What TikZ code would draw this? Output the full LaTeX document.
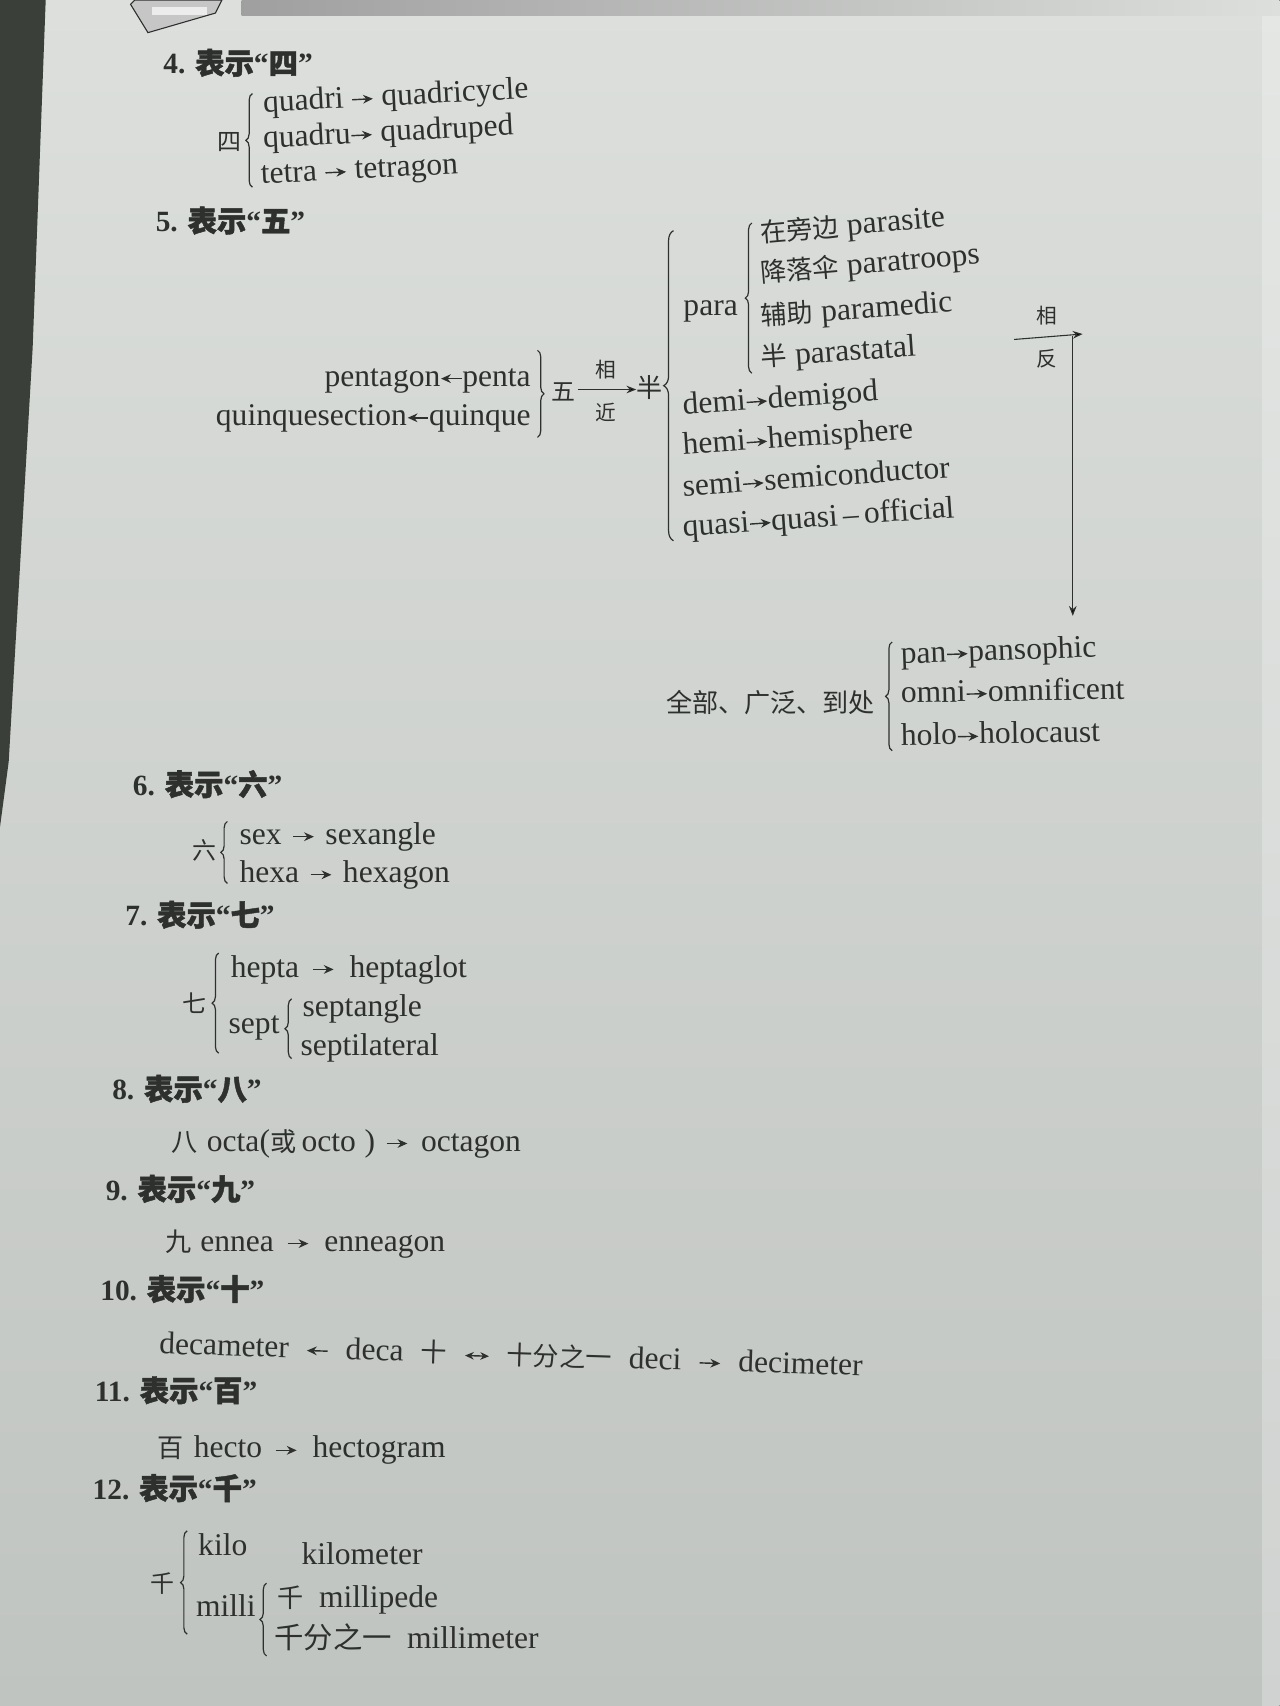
\documentclass[tikz,border=0pt]{standalone}
\usepackage{fontspec}
\setmainfont{Liberation Serif}
\newfontfamily\cjk{Noto Sans CJK SC}
\newfontfamily\cjkb{Noto Sans CJK SC}[FakeBold=1.5]
\usetikzlibrary{decorations.pathreplacing,arrows.meta}
\definecolor{ink}{HTML}{2E302E}
\definecolor{paperTop}{HTML}{DCDFDC}
\definecolor{paperBot}{HTML}{C0C4C1}
\definecolor{edge}{HTML}{3A3F39}
\newcommand\zh[1]{{\cjk\fontsize{24}{28}\selectfont #1}}
\newcommand\hz[1]{{\cjkb #1}}
\newcommand\ra{\tikz[baseline=-7pt]{\draw[ink,line width=1.3pt,-{Stealth[length=9pt,width=8pt]}] (0pt,0pt) -- (19pt,0pt);}}
\newcommand\la{\tikz[baseline=-7pt]{\draw[ink,line width=1.3pt,{Stealth[length=9pt,width=8pt]}-] (0pt,0pt) -- (19pt,0pt);}}
\newcommand\lra{\tikz[baseline=-7pt]{\draw[ink,line width=1.3pt,{Stealth[length=8pt,width=7pt]}-{Stealth[length=8pt,width=7pt]}] (0pt,0pt) -- (22pt,0pt);}}
\newcommand\gap{\hspace{16pt}}
\newcommand\sra{\hspace{10pt}\ra\hspace{10pt}}
\tikzset{
  lat/.style={font=\fontsize{29}{34}\selectfont, text=ink, inner sep=0pt, anchor=base west},
  head/.style={font=\bfseries\fontsize{27}{32}\selectfont, text=ink, inner sep=0pt, anchor=base west},
  zhc/.style={font=\cjk\fontsize{22}{26}\selectfont, text=ink, inner sep=0pt},
  zhs/.style={font=\cjk\fontsize{19}{22}\selectfont, text=ink, inner sep=0pt},
  brc/.style={draw=ink, line width=1.1pt, decorate, decoration={brace, amplitude=6pt}},
  bigbrc/.style={draw=ink, line width=1.1pt, decorate, decoration={brace, amplitude=9pt}},
  arr/.style={draw=ink, line width=1pt, -{Stealth[length=9pt,width=7pt]}},
}
\begin{document}
\begin{tikzpicture}[x=1pt,y=-1pt]
\useasboundingbox (0,0) rectangle (1176,1568);
% paper
\fill[top color=paperTop, bottom color=paperBot] (0,0) rectangle (1176,1568);
\fill[edge] (0,0) -- (42,0) -- (30,320) -- (8,700) -- (0,760) -- cycle;
\fill[white, opacity=0.25] (1160,0) rectangle (1176,1568);
% header
\fill[left color=gray!75, right color=paperTop] (222,0) rectangle (1176,14);
\draw[ink, line width=1pt, fill=gray!45] (120,4) -- (136,30) -- (198,12) -- (204,0) -- (124,0) -- cycle;
\fill[white!85!gray] (140,6) rectangle (190,14);

% ---------- 4
\node[head] (h4) at (150,68) {4. \hz{表示}“\hz{四}”};
\node[zhc] (si) at (211,131) {四};
\draw[brc] (232,172) -- (232,86);
\node[lat, rotate=3] (q1) at (242,103) {quadri \ra\ quadricycle};
\node[lat, rotate=3] (q2) at (242,136) {quadru\ra\ quadruped};
\node[lat, rotate=3] (q3) at (240,169) {tetra \ra\ tetragon};

% ---------- 5
\node[head] (h5) at (143,213) {5. \hz{表示}“\hz{五}”};
\node[lat, anchor=base east] (p1) at (488,355) {pentagon\la penta};
\node[lat, anchor=base east] (p2) at (488,391) {quinquesection\la quinque};
\draw[brc] (494,322) -- (494,402);
\node[zhc] (wu) at (518,360) {五};
\node[zhc, font=\cjk\fontsize{24}{28}\selectfont] (ban) at (597,356) {半};
\draw[arr] (wu.east) ++(2,-2) coordinate (wuA) -- (ban.west |- wuA);
\node[zhs] (xiang1) at (557,340) {相};
\node[zhs] (jin) at (557,379) {近};
\draw[bigbrc] (619,497) -- (619,212);
\node[lat] (para) at (628,290) {para};
\draw[brc] (691,343) -- (691,205);
\node[lat, rotate=5] (pa1) at (700,223) {\zh{在旁边} parasite};
\node[lat, rotate=5] (pa2) at (700,260) {\zh{降落伞} paratroops};
\node[lat, rotate=4] (pa3) at (700,299) {\zh{辅助} paramedic};
\node[lat, rotate=4] (pa4) at (700,337) {\zh{半} parastatal};
\node[lat, rotate=4] (d1) at (628,381) {demi\ra demigod};
\node[lat, rotate=4] (d2) at (628,418) {hemi\ra hemisphere};
\node[lat, rotate=4] (d3) at (628,456) {semi\ra semiconductor};
\node[lat, rotate=4] (d4) at (628,493) {quasi\ra quasi\,–\,official};
% opposite arrow
\coordinate (oppA) at (932,312);
\coordinate (oppB) at (995,307);
\coordinate (oppC) at (986,309);
\node[zhs] (xiang2) at (962,290) {相};
\node[zhs] (fan) at (962,330) {反};
\draw[arr] (oppA) -- (oppB);
\node[zhc, font=\cjk\fontsize{24}{28}\selectfont, anchor=base west] (quan) at (612,655) {全部、广泛、到处};
\draw[arr] (oppC) -- (oppC |- 0,566) coordinate (oppD);
\draw[brc] (820,690) -- (820,590);
\node[lat, rotate=2] (o1) at (828,610) {pan\ra pansophic};
\node[lat, rotate=1] (o2) at (828,646) {omni\ra omnificent};
\node[lat, rotate=1] (o3) at (828,685) {holo\ra holocaust};

% ---------- 6
\node[head] (h6) at (122,731) {6. \hz{表示}“\hz{六}”};
\node[zhc] (liu) at (188,782) {六};
\draw[brc] (209,812) -- (209,755);
\node[lat] (s1) at (220,776) {sex\sra sexangle};
\node[lat] (s2) at (220,811) {hexa\sra hexagon};

% ---------- 7
\node[head] (h7) at (115,851) {7. \hz{表示}“\hz{七}”};
\node[zhc] (qi) at (179,922) {七};
\draw[brc] (201,968) -- (201,876);
\node[lat] (hp) at (212,898) {hepta\hspace{12pt}\ra\hspace{14pt}heptaglot};
\node[lat] (sp) at (210,950) {sept};
\draw[brc] (268,973) -- (268,918);
\node[lat] (sp1) at (278,934) {septangle};
\node[lat] (sp2) at (276,970) {septilateral};

% ---------- 8
\node[head] (h8) at (103,1011) {8. \hz{表示}“\hz{八}”};
\node[lat] (oc) at (157,1058) {\zh{八}\hspace{9pt}octa(\zh{或}\hspace{5pt}octo\hspace{8pt})\hspace{10pt}\ra\hspace{12pt}octagon};

% ---------- 9
\node[head] (h9) at (97,1103) {9. \hz{表示}“\hz{九}”};
\node[lat] (en) at (152,1150) {\zh{九}\hspace{8pt}ennea\hspace{12pt}\ra\hspace{14pt}enneagon};

% ---------- 10
\node[head] (h10) at (92,1195) {10. \hz{表示}“\hz{十}”};
\node[lat, rotate=-1.8] (de) at (146,1244) {decameter\gap\la\gap deca\gap\zh{十}\gap\lra\gap\zh{十分之一}\gap deci\gap\ra\gap decimeter};

% ---------- 11
\node[head] (h11) at (87,1288) {11. \hz{表示}“\hz{百}”};
\node[lat] (he) at (145,1340) {\zh{百}\hspace{9pt}hecto\hspace{12pt}\ra\hspace{14pt}hectogram};

% ---------- 12
\node[head] (h12) at (85,1378) {12. \hz{表示}“\hz{千}”};
\node[zhc] (qian) at (149,1455) {千};
\draw[brc] (172,1502) -- (172,1407);
\node[lat] (ki) at (182,1430) {kilo};
\node[lat] (km) at (277,1438) {kilometer};
\node[lat] (mi) at (180,1486) {milli};
\draw[brc] (245,1522) -- (245,1455);
\node[lat] (mp) at (255,1477) {\zh{千}\hspace{14pt}millipede};
\node[lat] (mm) at (252,1515) {{\cjk\fontsize{27}{30}\selectfont 千分之一}\hspace{14pt}millimeter};
\end{tikzpicture}
\end{document}
